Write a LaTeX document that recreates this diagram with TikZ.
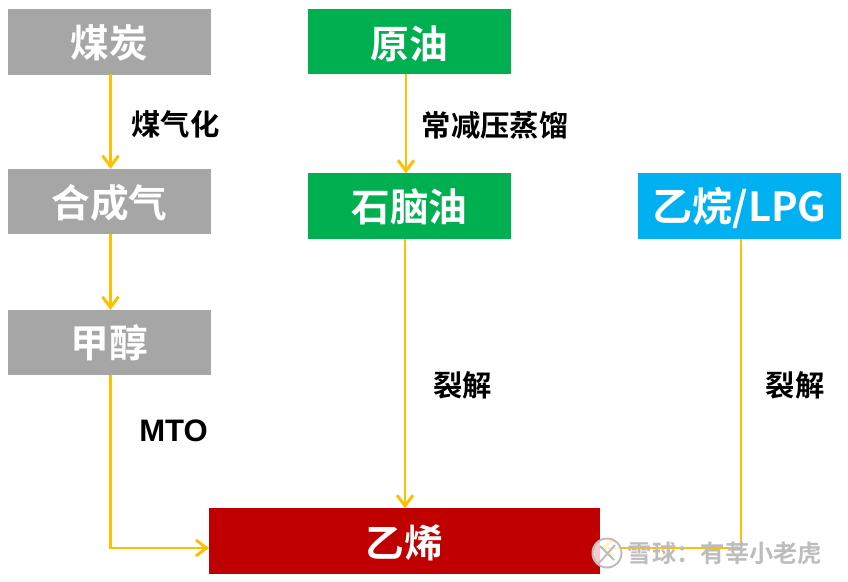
\documentclass[tikz,border=0pt]{standalone}
\usepackage{fontspec}
\setmainfont{Noto Sans CJK SC}[BoldFont={* Bold}]
\newfontfamily\latinbold{Liberation Sans}[BoldFont={* Bold}]
\usetikzlibrary{arrows.meta}
\definecolor{boxgray}{HTML}{A6A6A6}
\definecolor{boxgreen}{HTML}{00B050}
\definecolor{boxblue}{HTML}{00B0F0}
\definecolor{boxred}{HTML}{C00000}
\definecolor{linkgold}{HTML}{FFC000}
\definecolor{wmgray}{HTML}{BDBDBD}
\newcommand{\lowertext}[2]{\raisebox{0pt}[\dimexpr\height+#1\relax]{#2}}
\tikzset{
  box/.style={inner sep=0pt,outer sep=0pt,minimum width=152.25pt,minimum height=49pt,text=white,font=\fontsize{29}{31}\selectfont\bfseries},
  graybox/.style={box,fill=boxgray},
  greenbox/.style={box,fill=boxgreen},
  bluebox/.style={box,fill=boxblue},
  redbox/.style={box,fill=boxred,minimum width=293pt},
  steplabel/.style={inner sep=0pt,text=black,font=\fontsize{22}{24}\selectfont\bfseries},
  link/.style={draw=linkgold,line width=2.2pt,-{Straight Barb[length=8pt,width=12pt,line width=2.2pt]}},
  watermark/.style={inner sep=0pt,text=wmgray,font=\fontsize{18.2}{20}\selectfont\bfseries}
}
\begin{document}
\begin{tikzpicture}[x=0.75pt,y=-0.75pt]
\useasboundingbox (0,0) rectangle (848,581);
\node[graybox] (coal) at (109.5,42) {\lowertext{2pt}{煤炭}};
\node[graybox] (syngas) at (109.5,201.5) {\lowertext{2pt}{合成气}};
\node[graybox] (methanol) at (109.5,342.5) {\lowertext{1pt}{甲醇}};
\node[greenbox] (crude) at (409.5,41.5) {\lowertext{3pt}{原油}};
\node[greenbox] (naphtha) at (409.5,206) {\lowertext{2pt}{石脑油}};
\node[bluebox,font=\fontsize{30}{32}\selectfont\bfseries] (ethane) at (739.5,206) {\lowertext{3pt}{乙烷/LPG}};
\node[redbox] (ethylene) at (404.5,541) {\lowertext{3pt}{乙烯}};
\coordinate (coalout) at (110.5,74);
\coordinate (crudeout) at (406,74);
\coordinate (naphout) at (405,239);
\coordinate (ethout) at (741,239);
\coordinate (eleft) at (209,548);
\coordinate (eright) at (600,548);
\draw[link] (coalout) -- (coalout |- syngas.north);
\draw[link] (coalout |- syngas.south) -- (coalout |- methanol.north);
\draw[link] (crudeout) -- (crudeout |- naphtha.north);
\draw[link] (naphout) -- (naphout |- ethylene.north);
\draw[link] (coalout |- methanol.south) -- (coalout |- eleft) -- (eleft);
\draw[link] (ethout) -- (ethout |- eright) -- (eright);
\node[steplabel] (l1) at (175.5,124) {煤气化};
\node[steplabel] (l2) at (495,125) {常减压蒸馏};
\node[steplabel] (l3) at (462.5,385) {裂解};
\node[steplabel] (l4) at (795,385) {裂解};
\node[steplabel,font=\fontsize{23.3}{25}\latinbold\bfseries] (l5) at (173.5,431) {MTO};
\fill[white,opacity=.8] (607,553) circle (15);
\draw[wmgray,line width=1.5pt] (607,553) circle (14.5);
\draw[wmgray,line width=1.5pt] (599,563) -- (615,545) (600,546) -- (614,560);
\node[watermark] (wm) at (725,553) {雪球：有莘小老虎};
\end{tikzpicture}
\end{document}
